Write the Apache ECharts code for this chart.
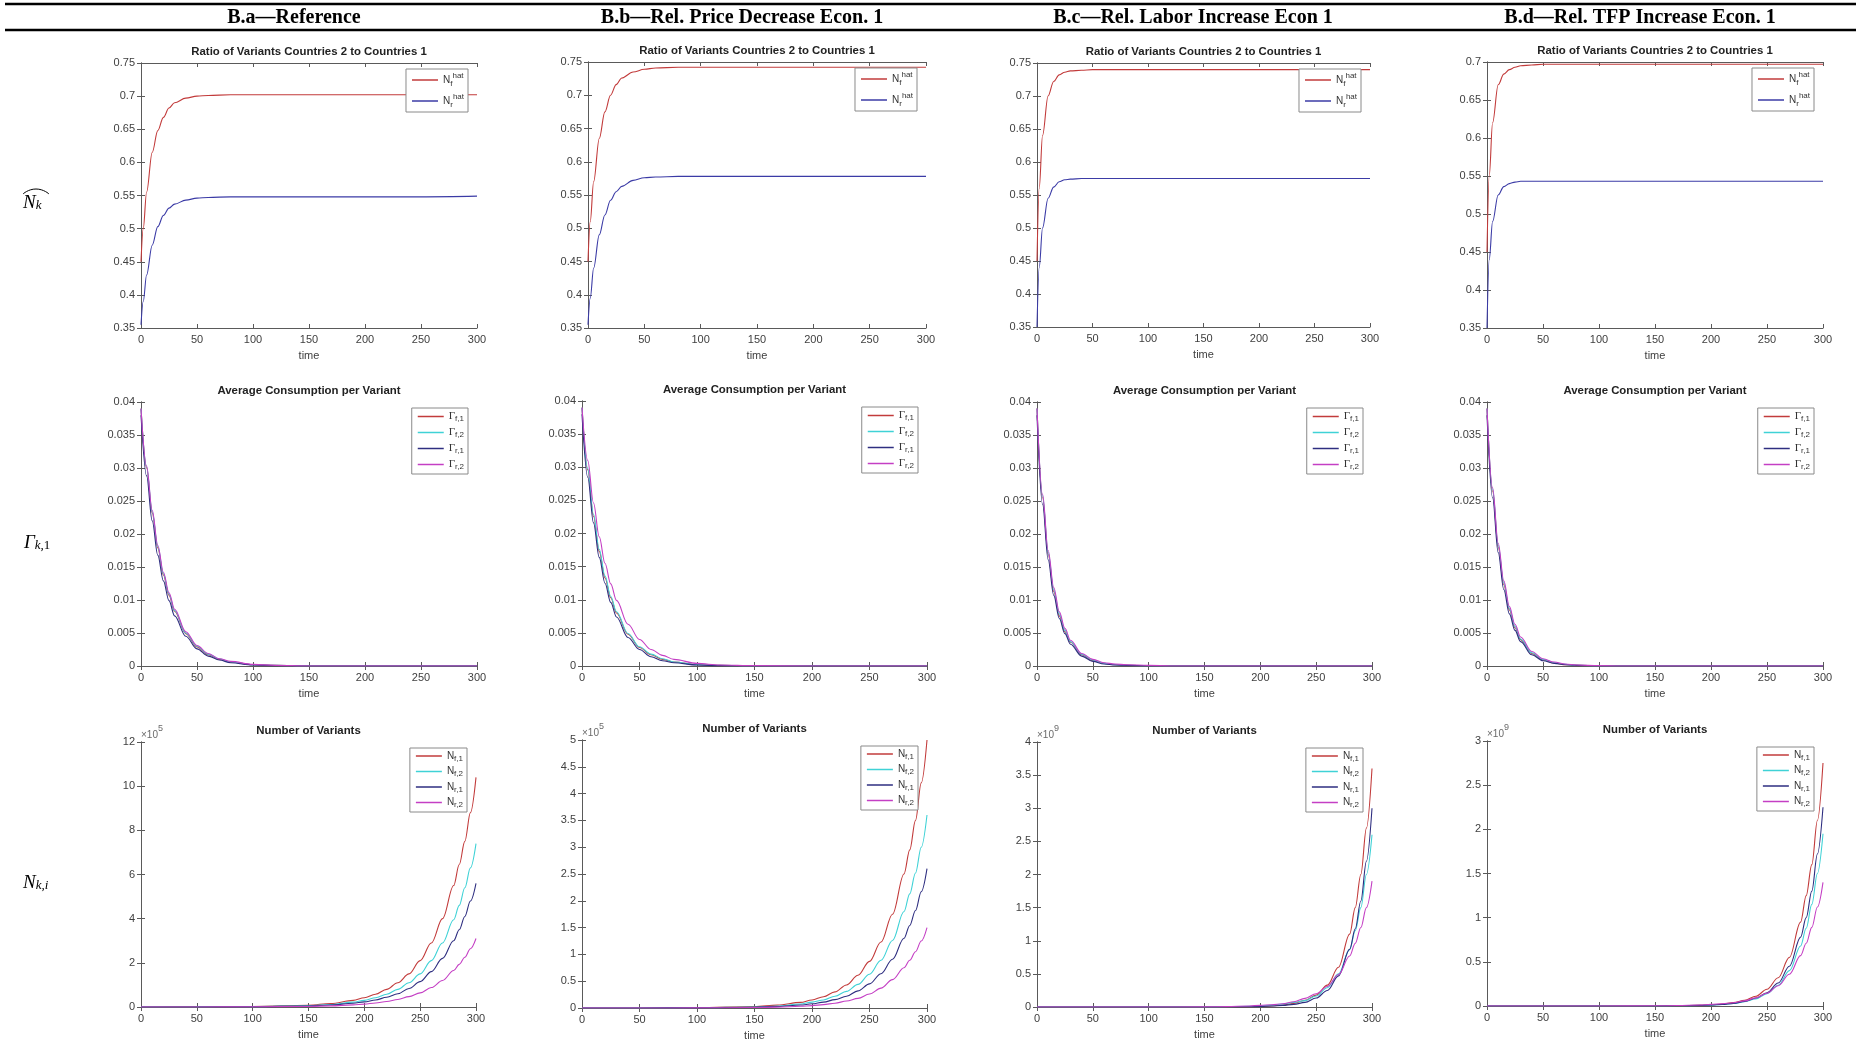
<!DOCTYPE html>
<html><head><meta charset="utf-8">
<script src="https://cdn.jsdelivr.net/npm/echarts@6/dist/echarts.min.js"></script>
<style>html,body{margin:0;padding:0;background:#fff}#c{width:1856px;height:1048px}</style>
</head><body><div id="c"></div>
<script>
// ---------- texts ----------
const headers = ['B.a\u2014Reference','B.b\u2014Rel. Price Decrease Econ. 1','B.c\u2014Rel. Labor Increase Econ 1','B.d\u2014Rel. TFP Increase Econ. 1'];
const titles = ['Ratio of Variants Countries 2 to Countries 1','Average Consumption per Variant','Number of Variants'];
const xTickMax = 300, xTickStep = 50;

// ---------- y-axis ranges per panel (tick labels) ----------
const yMin1 = [0.35,0.35,0.35,0.35], yMax1 = [0.75,0.75,0.75,0.7], yStep1 = 0.05;
const yMin2 = [0,0,0,0], yMax2 = [0.04,0.04,0.04,0.04], yStep2 = 0.005;
const yMax3 = [12,5,4,3], yStep3 = [2,0.5,0.5,0.5], yExp3 = ['5','5','9','9'];

// ---------- row 1: ratio of variants ----------
const T1 = [0,2,5,10,15,20,25,30,40,50,60,80,100,150,200,250,300];
const hatF_a = [0.45,0.50,0.555,0.615,0.648,0.668,0.682,0.690,0.697,0.700,0.701,0.702,0.702,0.702,0.702,0.702,0.702];
const hatR_a = [0.355,0.39,0.43,0.475,0.503,0.520,0.531,0.537,0.543,0.546,0.547,0.548,0.548,0.548,0.548,0.548,0.549];
const hatF_b = [0.45,0.51,0.57,0.635,0.675,0.700,0.716,0.726,0.735,0.739,0.741,0.742,0.742,0.742,0.742,0.742,0.742];
const hatR_b = [0.355,0.395,0.44,0.49,0.52,0.542,0.555,0.563,0.572,0.576,0.577,0.578,0.578,0.578,0.578,0.578,0.578];
const hatF_c = [0.45,0.56,0.64,0.70,0.722,0.732,0.736,0.738,0.739,0.740,0.740,0.740,0.740,0.740,0.740,0.740,0.740];
const hatR_c = [0.35,0.44,0.50,0.545,0.562,0.570,0.573,0.574,0.575,0.575,0.575,0.575,0.575,0.575,0.575,0.575,0.575];
const hatF_d = [0.45,0.55,0.62,0.67,0.684,0.690,0.693,0.695,0.696,0.697,0.697,0.697,0.697,0.697,0.697,0.697,0.697];
const hatR_d = [0.35,0.44,0.49,0.525,0.536,0.540,0.542,0.543,0.543,0.543,0.543,0.543,0.543,0.543,0.543,0.543,0.543];

// ---------- row 2: average consumption per variant ----------
const T2 = [0,5,10,15,20,25,30,40,50,60,70,80,100,120,150,200,250,300];
const gF1_a = [0.039,0.0300,0.0232,0.0179,0.0138,0.0107,0.0083,0.0049,0.0029,0.0017,0.0010,0.0006,0.0002,0.0001,0,0,0,0];
const gF2_a = [0.039,0.0302,0.0234,0.0181,0.0140,0.0109,0.0084,0.0050,0.0030,0.0018,0.0011,0.0006,0.0002,0.0001,0,0,0,0];
const gR1_a = [0.038,0.0288,0.0220,0.0168,0.0129,0.0099,0.0076,0.0045,0.0026,0.0015,0.0009,0.0005,0.00015,0.00005,0,0,0,0];
const gR2_a = [0.039,0.0303,0.0236,0.0183,0.0142,0.0111,0.0086,0.0052,0.0031,0.0019,0.0011,0.0007,0.00025,0.0001,0,0,0,0];
const gF1_b = [0.039,0.0296,0.0226,0.0173,0.0133,0.0103,0.0080,0.0048,0.0028,0.0017,0.0010,0.0006,0.0002,0.0001,0,0,0,0];
const gF2_b = [0.039,0.0298,0.0229,0.0176,0.0136,0.0105,0.0082,0.0049,0.0029,0.0018,0.0011,0.0006,0.0002,0.0001,0,0,0,0];
const gR1_b = [0.038,0.0285,0.0216,0.0164,0.0125,0.0096,0.0074,0.0043,0.0025,0.0014,0.0008,0.0005,0.00015,0.00005,0,0,0,0];
const gR2_b = [0.039,0.0310,0.0246,0.0195,0.0155,0.0124,0.0099,0.0063,0.0040,0.0025,0.0016,0.0010,0.0004,0.00015,0.00005,0,0,0];
const gF1_c = [0.039,0.0255,0.0169,0.0113,0.0076,0.0052,0.0036,0.0017,0.0008,0.0004,0.0002,0.0001,0,0,0,0,0,0];
const gF2_c = [0.039,0.0258,0.0172,0.0116,0.0079,0.0054,0.0037,0.0018,0.0009,0.0004,0.0002,0.0001,0,0,0,0,0,0];
const gR1_c = [0.038,0.0245,0.0161,0.0107,0.0072,0.0049,0.0033,0.0015,0.0007,0.0003,0.00015,0.0001,0,0,0,0,0,0];
const gR2_c = [0.039,0.0260,0.0175,0.0119,0.0082,0.0057,0.0039,0.0019,0.0010,0.0005,0.0003,0.0002,0.0001,0,0,0,0,0];
const gF1_d = [0.039,0.0265,0.0180,0.0123,0.0085,0.0058,0.0040,0.0019,0.0009,0.00045,0.0002,0.0001,0,0,0,0,0,0];
const gF2_d = [0.039,0.0268,0.0183,0.0126,0.0087,0.0060,0.0041,0.0020,0.0010,0.0005,0.00025,0.0001,0,0,0,0,0,0];
const gR1_d = [0.038,0.0255,0.0172,0.0116,0.0079,0.0054,0.0037,0.0017,0.0008,0.0004,0.0002,0.0001,0,0,0,0,0,0];
const gR2_d = [0.039,0.0270,0.0186,0.0129,0.0090,0.0063,0.0044,0.0022,0.0011,0.0006,0.0003,0.00015,0.00005,0,0,0,0,0];

// ---------- row 3: number of variants (in units of the axis exponent) ----------
const T3 = [0,50,100,150,170,190,200,210,220,230,240,250,260,270,280,285,290,295,300];
const nF1_a = [0,0.005,0.02,0.08,0.16,0.3,0.42,0.58,0.8,1.1,1.5,2.1,2.9,4.0,5.5,6.45,7.5,8.8,10.4];
const nF2_a = [0,0.004,0.015,0.06,0.11,0.22,0.3,0.42,0.58,0.8,1.1,1.5,2.1,2.9,3.95,4.6,5.4,6.3,7.4];
const nR1_a = [0,0.003,0.01,0.045,0.09,0.17,0.23,0.32,0.44,0.6,0.84,1.15,1.6,2.2,3.0,3.5,4.1,4.8,5.6];
const nR2_a = [0,0.002,0.006,0.025,0.05,0.095,0.13,0.18,0.25,0.34,0.47,0.64,0.88,1.2,1.65,1.93,2.25,2.64,3.1];
const nF1_b = [0,0.001,0.005,0.026,0.053,0.105,0.15,0.21,0.3,0.43,0.61,0.87,1.23,1.75,2.5,2.95,3.5,4.2,5.0];
const nF2_b = [0,0.001,0.004,0.019,0.038,0.076,0.11,0.15,0.22,0.31,0.44,0.63,0.89,1.26,1.8,2.13,2.52,3.0,3.6];
const nR1_b = [0,0.001,0.003,0.014,0.028,0.055,0.078,0.11,0.156,0.22,0.32,0.45,0.64,0.91,1.3,1.54,1.82,2.17,2.6];
const nR2_b = [0,0,0.002,0.008,0.016,0.032,0.045,0.063,0.09,0.13,0.18,0.26,0.37,0.53,0.75,0.89,1.05,1.25,1.5];
const nF1_c = [0,0,0,0,0.001,0.005,0.009,0.016,0.03,0.055,0.1,0.18,0.33,0.6,1.1,1.5,2.0,2.7,3.6];
const nF2_c = [0,0,0,0.001,0.003,0.01,0.017,0.028,0.045,0.07,0.096,0.166,0.29,0.5,0.87,1.15,1.5,2.0,2.6];
const nR1_c = [0,0,0,0,0.001,0.004,0.008,0.014,0.025,0.04,0.07,0.135,0.25,0.47,0.87,1.18,1.6,2.2,3.0];
const nR2_c = [0,0,0,0.002,0.006,0.016,0.025,0.035,0.05,0.08,0.13,0.2,0.31,0.49,0.77,0.96,1.2,1.5,1.9];
const nF1_d = [0,0,0,0,0.002,0.008,0.013,0.022,0.038,0.065,0.11,0.19,0.32,0.55,0.95,1.25,1.6,2.1,2.75];
const nF2_d = [0,0,0,0,0.002,0.006,0.01,0.017,0.028,0.048,0.08,0.14,0.235,0.4,0.68,0.88,1.15,1.5,1.95];
const nR1_d = [0,0,0,0,0.002,0.007,0.011,0.018,0.03,0.052,0.09,0.15,0.26,0.45,0.78,1.0,1.3,1.72,2.25];
const nR2_d = [0,0,0,0.002,0.005,0.012,0.018,0.026,0.037,0.058,0.092,0.145,0.23,0.36,0.57,0.71,0.89,1.12,1.4];

// ---------- layout (pixels) ----------
const GRID = [
  [141,63,336,265],[588,62,338,266],[1037,63,333,264],[1487,62,336,266],
  [141,402,336,264],[582,401,345,265],[1037,402,335,264],[1487,402,336,264],
  [141,742,335,265],[582,740,345,268],[1037,742,335,265],[1487,741,336,265]
];
const HEADER_X = [294,742,1193,1640];

const RED='#c23b3b', CYAN='#3fd2d6', NAVY='#2e2e80', MAG='#c43fc4', BLUE='#3b3ba6';
const LBL = {
  Nf_hat:'{n|N}{sub|f}{sup|hat}', Nr_hat:'{n|N}{sub|r}{sup|hat}',
  Gf1:'{g|\u0393}{sub|f,1}', Gf2:'{g|\u0393}{sub|f,2}', Gr1:'{g|\u0393}{sub|r,1}', Gr2:'{g|\u0393}{sub|r,2}',
  Nf1:'{n|N}{sub|f,1}', Nf2:'{n|N}{sub|f,2}', Nr1:'{n|N}{sub|r,1}', Nr2:'{n|N}{sub|r,2}'
};
const rowSeries = [
  [[['Nf_hat',RED,hatF_a],['Nr_hat',BLUE,hatR_a]],[['Nf_hat',RED,hatF_b],['Nr_hat',BLUE,hatR_b]],[['Nf_hat',RED,hatF_c],['Nr_hat',BLUE,hatR_c]],[['Nf_hat',RED,hatF_d],['Nr_hat',BLUE,hatR_d]]],
  [[['Gf1',RED,gF1_a],['Gf2',CYAN,gF2_a],['Gr1',NAVY,gR1_a],['Gr2',MAG,gR2_a]],
   [['Gf1',RED,gF1_b],['Gf2',CYAN,gF2_b],['Gr1',NAVY,gR1_b],['Gr2',MAG,gR2_b]],
   [['Gf1',RED,gF1_c],['Gf2',CYAN,gF2_c],['Gr1',NAVY,gR1_c],['Gr2',MAG,gR2_c]],
   [['Gf1',RED,gF1_d],['Gf2',CYAN,gF2_d],['Gr1',NAVY,gR1_d],['Gr2',MAG,gR2_d]]],
  [[['Nf1',RED,nF1_a],['Nf2',CYAN,nF2_a],['Nr1',NAVY,nR1_a],['Nr2',MAG,nR2_a]],
   [['Nf1',RED,nF1_b],['Nf2',CYAN,nF2_b],['Nr1',NAVY,nR1_b],['Nr2',MAG,nR2_b]],
   [['Nf1',RED,nF1_c],['Nf2',CYAN,nF2_c],['Nr1',NAVY,nR1_c],['Nr2',MAG,nR2_c]],
   [['Nf1',RED,nF1_d],['Nf2',CYAN,nF2_d],['Nr1',NAVY,nR1_d],['Nr2',MAG,nR2_d]]]
];
const TIMES = [T1,T2,T3];

const AX = '#5a5a5a', TXT = '#404040', FONT = '"Liberation Sans", Arial, sans-serif';
const option = {animation:false, backgroundColor:'#fff', grid:[], xAxis:[], yAxis:[], series:[], legend:[], graphic:[]};

function yRange(r,c){
  if (r===0) return {min:yMin1[c], max:yMax1[c], interval:yStep1};
  if (r===1) return {min:yMin2[c], max:yMax2[c], interval:yStep2};
  return {min:0, max:yMax3[c], interval:yStep3[c]};
}

for (let g=0; g<12; g++){
  const [l,t,w,h] = GRID[g]; const r = Math.floor(g/4), c = g%4;
  option.grid.push({left:l, top:t, width:w, height:h, show:false});
  const line = {show:true, lineStyle:{color:AX, width:1}};
  const tick = {show:true, inside:true, length:4, lineStyle:{color:AX, width:1}};
  option.xAxis.push({type:'value', gridIndex:g, position:'bottom', min:0, max:xTickMax, interval:xTickStep,
    axisLine:line, axisTick:tick, splitLine:{show:false},
    axisLabel:{color:TXT, fontSize:11, fontFamily:FONT, margin:6},
    name:'time', nameLocation:'middle', nameGap:22, nameTextStyle:{color:TXT, fontSize:11, fontFamily:FONT}});
  option.xAxis.push({type:'value', gridIndex:g, position:'top', min:0, max:xTickMax, interval:xTickStep,
    axisLine:line, axisTick:tick, axisLabel:{show:false}, splitLine:{show:false}});
  const yr = yRange(r,c);
  const yl = Object.assign({type:'value', gridIndex:g, position:'left', axisLine:line, axisTick:tick,
    splitLine:{show:false}, axisLabel:{color:TXT, fontSize:11, fontFamily:FONT, margin:6}}, yr);
  if (r===2){
    yl.name = '{a|\u00d710}{b|' + yExp3[c] + '}';
    yl.nameLocation = 'end'; yl.nameGap = 2;
    yl.nameTextStyle = {align:'left', color:'#6a6a6a', fontFamily:FONT,
      rich:{a:{fontSize:10, color:'#6a6a6a', fontFamily:FONT, lineHeight:16, verticalAlign:'bottom'},
            b:{fontSize:9, color:'#6a6a6a', fontFamily:FONT, verticalAlign:'top'}}};
  }
  option.yAxis.push(yl);
  option.yAxis.push(Object.assign({type:'value', gridIndex:g, position:'right', axisLine:line, axisTick:tick,
    axisLabel:{show:false}, splitLine:{show:false}}, yr));

  const ser = rowSeries[r][c];
  ser.forEach(([name,col,vals]) => {
    option.series.push({type:'line', name, xAxisIndex:2*g, yAxisIndex:2*g,
      data: TIMES[r].map((x,i)=>[x, vals[i]]), showSymbol:false, symbol:'none',
      smooth:0.35, smoothMonotone:'x', lineStyle:{width:1.1, color:col}, itemStyle:{color:col}, silent:true});
  });
  option.legend.push({orient:'vertical', right:1856-(l+w)+9, top:t+6, data:ser.map(s=>s[0]),
    icon:'rect', itemWidth:26, itemHeight:1.5, itemGap:r===0?5:4, padding:[3,4,3,6],
    borderColor:'#8a8a8a', borderWidth:1, backgroundColor:'#fff', selectedMode:false,
    formatter:n=>LBL[n],
    textStyle:{color:'#333', fontFamily:FONT, fontSize:10,
      rich:{n:{fontSize:10, fontFamily:FONT, lineHeight:r===0?16:13, color:'#333'},
            g:{fontSize:11, fontFamily:'"Liberation Serif", serif', lineHeight:13, color:'#333'},
            sub:{fontSize:8, fontFamily:FONT, verticalAlign:'bottom', color:'#333'},
            sup:{fontSize:8, fontFamily:FONT, verticalAlign:'top', color:'#333'}}}});
  option.graphic.push({type:'text', x:l+w/2, y:t-11, silent:true,
    style:{text:titles[r], textAlign:'center', textVerticalAlign:'middle', font:'bold 11.4px ' + FONT, fill:'#222'}});
}

// header
option.graphic.push({type:'line', silent:true, shape:{x1:5,y1:4,x2:1856,y2:4}, style:{stroke:'#000', lineWidth:2.5}});
option.graphic.push({type:'line', silent:true, shape:{x1:5,y1:30,x2:1856,y2:30}, style:{stroke:'#000', lineWidth:2.5}});
headers.forEach((h,i)=>option.graphic.push({type:'text', x:HEADER_X[i], y:18, silent:true,
  style:{text:h, textAlign:'center', textVerticalAlign:'middle', font:'bold 20px "Liberation Serif", serif', fill:'#000'}}));

// row labels
const RL = {n:{fontSize:19, fontStyle:'italic', fontFamily:'"Liberation Serif", serif', fill:'#000', lineHeight:22, verticalAlign:'bottom'},
            s:{fontSize:13, fontStyle:'italic', fontFamily:'"Liberation Serif", serif', fill:'#000', verticalAlign:'bottom'},
            u:{fontSize:13, fontFamily:'"Liberation Serif", serif', fill:'#000', verticalAlign:'bottom'}};
option.graphic.push({type:'text', x:23, y:201, silent:true, style:{text:'{n|N}{s|k}', rich:RL, textVerticalAlign:'middle'}});
option.graphic.push({type:'polyline', silent:true, shape:{points:[[23,194],[36,189],[49,194]], smooth:0.6}, style:{stroke:'#000', lineWidth:1, fill:null}});
option.graphic.push({type:'text', x:24, y:541, silent:true, style:{text:'{n|\u0393}{s|k,}{u|1}', rich:RL, textVerticalAlign:'middle'}});
option.graphic.push({type:'text', x:23, y:881, silent:true, style:{text:'{n|N}{s|k,i}', rich:RL, textVerticalAlign:'middle'}});

const chart = echarts.init(document.getElementById('c'), null, {renderer:'canvas'});
chart.setOption(option);
</script></body></html>
